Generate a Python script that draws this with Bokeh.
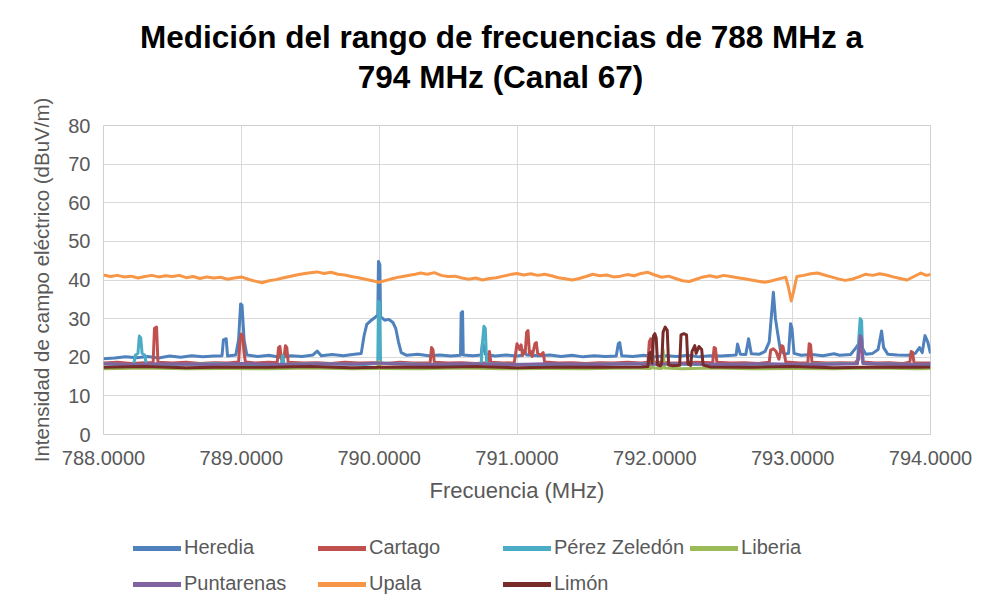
from bokeh.plotting import figure
from bokeh.layouts import column
from bokeh.models import FixedTicker, PrintfTickFormatter, Legend, LegendItem, Range1d, Label
from bokeh.embed import file_html
from bokeh.resources import INLINE

TITLE_LINE1 = "Medición del rango de frecuencias de 788 MHz a"
TITLE_LINE2 = "794 MHz (Canal 67)"
X_LABEL = "Frecuencia (MHz)"
Y_LABEL = "Intensidad de campo eléctrico (dBuV/m)"
X_TICKS = [788, 789, 790, 791, 792, 793, 794]
Y_TICKS = [0, 10, 20, 30, 40, 50, 60, 70, 80]

HEREDIA = [
    (788.00, 19.6), (788.08, 19.8), (788.16, 20.1), (788.24, 19.9), (788.32, 20.2), (788.40, 19.8),
    (788.48, 20.3), (788.56, 20.0), (788.64, 20.4), (788.72, 20.1), (788.80, 20.3), (788.86, 20.4),
    (788.87, 24.5), (788.89, 24.8), (788.90, 20.3), (788.96, 20.6), (788.98, 24.5), (788.995, 33.8),
    (789.005, 33.5), (789.02, 24.5), (789.04, 20.6), (789.12, 20.2), (789.20, 20.5), (789.28, 20.0),
    (789.36, 20.4), (789.44, 20.2), (789.52, 20.6), (789.55, 21.6), (789.58, 20.4), (789.66, 20.7),
    (789.74, 20.4), (789.82, 20.8), (789.87, 21.0), (789.89, 25.5), (789.91, 28.5), (789.94, 29.5),
    (789.97, 30.3), (789.99, 31.0), (789.995, 44.8), (790.005, 44.0), (790.01, 30.5), (790.04, 29.6),
    (790.07, 29.8), (790.10, 29.0), (790.12, 27.5), (790.14, 24.0), (790.16, 21.2), (790.20, 20.5),
    (790.28, 20.8), (790.36, 20.4), (790.44, 20.6), (790.52, 20.3), (790.59, 20.5), (790.595, 31.5),
    (790.605, 31.8), (790.61, 20.6), (790.68, 20.4), (790.74, 20.6), (790.75, 24.0), (790.77, 20.8),
    (790.84, 20.3), (790.92, 20.6), (791.00, 20.3), (791.04, 20.5), (791.05, 21.8), (791.07, 20.6),
    (791.16, 20.4), (791.24, 20.6), (791.32, 20.2), (791.40, 20.5), (791.48, 20.1), (791.56, 20.4),
    (791.64, 20.2), (791.72, 20.3), (791.735, 23.5), (791.745, 23.8), (791.76, 20.4), (791.84, 20.2),
    (791.92, 20.5), (792.00, 20.1), (792.08, 20.4), (792.16, 20.2), (792.24, 20.5), (792.32, 20.1),
    (792.40, 20.4), (792.48, 20.3), (792.56, 20.5), (792.59, 20.6), (792.60, 23.4), (792.62, 20.8),
    (792.66, 20.7), (792.68, 24.8), (792.70, 20.9), (792.76, 20.8), (792.80, 21.5), (792.83, 24.0),
    (792.86, 36.8), (792.875, 30.0), (792.89, 26.5), (792.91, 22.0), (792.94, 20.8), (792.97, 21.0),
    (792.985, 28.7), (792.995, 27.5), (793.01, 21.0), (793.06, 20.5), (793.14, 20.7), (793.22, 20.4),
    (793.30, 20.9), (793.34, 20.5), (793.42, 20.7), (793.46, 22.5), (793.48, 23.5), (793.50, 22.8),
    (793.53, 20.8), (793.58, 21.0), (793.62, 22.0), (793.645, 26.8), (793.66, 22.5), (793.69, 20.8),
    (793.76, 20.6), (793.84, 20.5), (793.89, 21.0), (793.92, 22.5), (793.94, 21.2), (793.96, 25.6),
    (793.98, 24.0), (794.00, 21.0),
]

CARTAGO = [
    (788.00, 18.5), (788.10, 18.7), (788.20, 18.4), (788.30, 18.6), (788.36, 18.6), (788.37, 27.5),
    (788.385, 27.8), (788.395, 18.7), (788.50, 18.5), (788.60, 18.7), (788.70, 18.4), (788.80, 18.6),
    (788.90, 18.5), (788.98, 18.8), (788.99, 24.0), (789.00, 26.0), (789.01, 25.5), (789.02, 21.0),
    (789.03, 18.8), (789.10, 18.5), (789.20, 18.7), (789.26, 18.6), (789.27, 22.5), (789.28, 22.8),
    (789.29, 19.5), (789.31, 20.0), (789.32, 23.0), (789.33, 22.5), (789.34, 18.7), (789.45, 18.5),
    (789.55, 18.6), (789.65, 18.4), (789.75, 18.7), (789.85, 18.5), (789.95, 18.6), (790.05, 18.4),
    (790.15, 18.7), (790.25, 18.5), (790.37, 18.6), (790.38, 22.5), (790.39, 22.0), (790.40, 18.7),
    (790.50, 18.5), (790.60, 18.6), (790.70, 18.4), (790.79, 18.6), (790.80, 21.5), (790.81, 18.7),
    (790.90, 18.5), (790.98, 18.6), (790.99, 21.0), (791.00, 23.5), (791.02, 22.0), (791.03, 23.2),
    (791.04, 20.5), (791.06, 21.5), (791.07, 26.5), (791.08, 26.9), (791.09, 21.0), (791.10, 21.5),
    (791.11, 20.2), (791.13, 23.5), (791.14, 23.8), (791.15, 21.0), (791.17, 20.5), (791.19, 21.2),
    (791.20, 18.8), (791.30, 18.5), (791.40, 18.6), (791.50, 18.4), (791.60, 18.6), (791.70, 18.5),
    (791.80, 18.7), (791.90, 18.5), (791.95, 18.7), (791.96, 24.0), (791.97, 24.8), (791.98, 22.5),
    (791.99, 18.8), (792.10, 18.6), (792.20, 18.5), (792.30, 18.7), (792.42, 18.6), (792.43, 22.5),
    (792.44, 22.3), (792.45, 18.7), (792.55, 18.5), (792.65, 18.6), (792.75, 18.4), (792.83, 18.7),
    (792.84, 21.8), (792.86, 22.2), (792.88, 21.5), (792.90, 19.5), (792.92, 23.0), (792.93, 22.8),
    (792.95, 18.8), (793.05, 18.5), (793.11, 18.6), (793.12, 23.5), (793.13, 23.2), (793.14, 18.7),
    (793.25, 18.5), (793.35, 18.6), (793.45, 18.5), (793.48, 19.5), (793.49, 25.0), (793.50, 24.5),
    (793.51, 18.8), (793.60, 18.5), (793.70, 18.6), (793.80, 18.4), (793.85, 18.7), (793.86, 21.5),
    (793.87, 21.3), (793.88, 18.6), (794.00, 18.5),
]

PEREZ_ZELEDON = [
    (788.00, 18.3), (788.15, 18.1), (788.22, 18.2), (788.23, 20.5), (788.25, 21.0), (788.26, 25.5),
    (788.27, 25.0), (788.28, 21.0), (788.30, 20.5), (788.31, 18.2), (788.50, 18.1), (788.80, 18.3),
    (789.10, 18.1), (789.29, 18.2), (789.30, 20.5), (789.31, 18.2), (789.60, 18.3), (789.90, 18.1),
    (789.99, 18.5), (789.995, 34.5), (790.005, 34.0), (790.01, 18.5), (790.30, 18.2), (790.60, 18.1),
    (790.74, 18.3), (790.75, 24.0), (790.76, 28.0), (790.77, 27.5), (790.78, 18.3), (791.10, 18.1),
    (791.50, 18.2), (791.90, 18.3), (792.30, 18.1), (792.70, 18.2), (793.00, 18.1), (793.30, 18.3),
    (793.47, 18.4), (793.48, 25.0), (793.49, 30.0), (793.50, 29.5), (793.51, 18.4), (793.80, 18.2),
    (794.00, 18.1),
]

LIBERIA = [
    (788.00, 17.0), (788.30, 17.2), (788.60, 17.0), (788.90, 17.1), (789.20, 17.0), (789.50, 17.2),
    (789.80, 17.0), (789.99, 17.1), (790.00, 19.0), (790.01, 17.1), (790.30, 17.0), (790.60, 17.2),
    (790.90, 17.0), (791.20, 17.1), (791.50, 17.0), (791.80, 17.2), (791.97, 17.1), (791.98, 21.0),
    (791.99, 17.2), (792.05, 17.1), (792.06, 22.0), (792.07, 17.2), (792.20, 17.0), (792.40, 17.2),
    (792.70, 17.0), (793.00, 17.1), (793.30, 17.0), (793.60, 17.2), (793.90, 17.0), (794.00, 17.1),
]

PUNTARENAS = [
    (788.00, 18.3), (788.20, 18.1), (788.40, 18.3), (788.60, 18.2), (788.80, 18.1), (789.00, 18.4),
    (789.20, 18.2), (789.40, 18.1), (789.60, 18.3), (789.80, 18.2), (790.00, 18.5), (790.20, 18.2),
    (790.40, 18.1), (790.60, 18.3), (790.80, 18.2), (791.00, 18.1), (791.20, 18.3), (791.40, 18.2),
    (791.60, 18.1), (791.80, 18.3), (792.00, 18.2), (792.20, 18.4), (792.40, 18.2), (792.60, 18.1),
    (792.80, 18.3), (793.00, 18.2), (793.20, 18.1), (793.47, 18.3), (793.48, 22.0), (793.49, 25.6),
    (793.50, 25.0), (793.51, 18.4), (793.70, 18.2), (793.90, 18.1), (794.00, 18.3),
]

UPALA = [
    (788.00, 41.3), (788.05, 40.9), (788.10, 41.2), (788.15, 40.8), (788.20, 41.0), (788.25, 40.5),
    (788.30, 40.9), (788.35, 41.2), (788.40, 40.8), (788.45, 41.1), (788.50, 40.9), (788.55, 41.2),
    (788.60, 40.6), (788.65, 40.9), (788.70, 40.4), (788.75, 40.8), (788.80, 40.5), (788.85, 40.7),
    (788.90, 40.2), (788.95, 40.5), (789.00, 40.8), (789.05, 40.2), (789.10, 39.7), (789.15, 39.3),
    (789.20, 39.8), (789.25, 40.1), (789.30, 40.5), (789.35, 40.9), (789.40, 41.3), (789.45, 41.6),
    (789.50, 41.9), (789.55, 42.1), (789.60, 41.7), (789.65, 42.0), (789.70, 41.5), (789.75, 41.3),
    (789.80, 40.9), (789.85, 40.6), (789.90, 40.2), (789.95, 39.8), (790.00, 39.4), (790.05, 39.9),
    (790.10, 40.4), (790.15, 40.8), (790.20, 41.1), (790.25, 41.4), (790.30, 41.8), (790.35, 41.5),
    (790.40, 41.9), (790.45, 41.2), (790.50, 40.9), (790.55, 41.0), (790.60, 40.5), (790.65, 40.2),
    (790.70, 40.5), (790.75, 40.0), (790.80, 40.4), (790.85, 40.6), (790.90, 41.0), (790.95, 41.4),
    (791.00, 41.7), (791.05, 41.3), (791.10, 41.6), (791.15, 41.2), (791.20, 41.5), (791.25, 41.1),
    (791.30, 40.6), (791.35, 40.3), (791.40, 40.0), (791.45, 40.4), (791.50, 40.9), (791.55, 41.5),
    (791.60, 41.1), (791.65, 41.3), (791.70, 40.8), (791.75, 41.0), (791.80, 41.4), (791.85, 41.1),
    (791.90, 41.7), (791.95, 42.0), (792.00, 41.3), (792.05, 40.7), (792.10, 41.0), (792.15, 40.4),
    (792.20, 39.8), (792.25, 39.6), (792.30, 40.2), (792.35, 40.8), (792.40, 41.1), (792.45, 40.7),
    (792.50, 41.2), (792.55, 40.9), (792.60, 40.6), (792.65, 40.3), (792.70, 40.0), (792.75, 39.7),
    (792.80, 39.4), (792.85, 39.8), (792.90, 40.3), (792.95, 40.7), (792.97, 38.0), (792.99, 34.6),
    (793.01, 37.5), (793.03, 40.9), (793.08, 41.2), (793.13, 41.6), (793.18, 41.8), (793.23, 41.3),
    (793.28, 40.8), (793.33, 40.3), (793.38, 39.9), (793.43, 40.2), (793.48, 40.8), (793.53, 41.5),
    (793.58, 41.2), (793.63, 41.6), (793.68, 41.3), (793.73, 40.8), (793.78, 40.4), (793.83, 40.0),
    (793.88, 40.9), (793.93, 41.8), (793.97, 41.2), (794.00, 41.4),
]

LIMON = [
    (788.00, 17.4), (788.30, 17.6), (788.60, 17.3), (788.90, 17.5), (789.20, 17.4), (789.50, 17.6),
    (789.80, 17.3), (790.10, 17.5), (790.40, 17.4), (790.70, 17.6), (791.00, 17.3), (791.30, 17.5),
    (791.60, 17.4), (791.90, 17.5), (791.95, 17.6), (791.96, 21.0), (791.97, 21.3), (791.98, 18.5),
    (791.99, 25.5), (792.00, 26.1), (792.01, 25.0), (792.02, 18.0), (792.04, 17.8), (792.05, 18.5),
    (792.06, 26.5), (792.075, 27.8), (792.09, 27.0), (792.10, 18.0), (792.13, 17.8), (792.18, 17.9),
    (792.19, 25.8), (792.21, 26.1), (792.23, 25.8), (792.24, 18.2), (792.26, 17.9), (792.27, 21.5),
    (792.29, 23.0), (792.30, 21.0), (792.32, 22.8), (792.34, 22.0), (792.35, 18.0), (792.40, 17.5),
    (792.70, 17.4), (793.00, 17.6), (793.30, 17.3), (793.60, 17.5), (793.90, 17.4), (794.00, 17.5),
]

SERIES = [
    ("Heredia", HEREDIA, "#4F81BD"),
    ("Cartago", CARTAGO, "#C0504D"),
    ("Pérez Zeledón", PEREZ_ZELEDON, "#4BACC6"),
    ("Liberia", LIBERIA, "#9BBB59"),
    ("Puntarenas", PUNTARENAS, "#8064A2"),
    ("Upala", UPALA, "#F79646"),
    ("Limón", LIMON, "#772C2A"),
]

FONT = "Liberation Sans"
GREY = "#595959"
W = 975
LEFT, RIGHT = 103, 45
TOP_H = 96


def strip(height):
    f = figure(width=W, height=height, output_backend="svg", toolbar_location=None,
               x_axis_type=None, y_axis_type=None,
               x_range=Range1d(0, 1), y_range=Range1d(0, 1),
               min_border_left=LEFT, min_border_right=RIGHT, min_border_top=0, min_border_bottom=0)
    f.grid.visible = False
    f.outline_line_color = None
    f.background_fill_color = "white"
    f.border_fill_color = "white"
    return f


# title strip
top = strip(TOP_H)
for txt, xs, ys in ((TITLE_LINE1, 398, TOP_H - 36), (TITLE_LINE2, 397, TOP_H - 76)):
    top.add_layout(Label(x=xs, y=ys, x_units="screen", y_units="screen", text=txt,
                         text_align="center", text_baseline="middle",
                         text_font=FONT, text_font_size="31.5px", text_font_style="bold",
                         text_color="#000000"))

# main chart
p = figure(width=W, height=520 - TOP_H, output_backend="svg", toolbar_location=None,
           x_range=Range1d(788, 794), y_range=Range1d(0, 80),
           min_border_left=LEFT, min_border_right=RIGHT, min_border_top=125 - TOP_H,
           min_border_bottom=86)
p.background_fill_color = "white"
p.border_fill_color = "white"
p.outline_line_color = "#D0D0D0"

for name, pts, color in SERIES:
    xs = [f for f, v in pts]
    ys = [v for f, v in pts]
    p.line(xs, ys, line_color=color, line_width=3, line_join="round")

for ax in (p.xaxis[0], p.yaxis[0]):
    ax.axis_line_color = None
    ax.major_tick_line_color = None
    ax.minor_tick_line_color = None
    ax.major_tick_out = 0
    ax.major_tick_in = 0
    ax.major_label_text_font = FONT
    ax.major_label_text_font_size = "20px"
    ax.major_label_text_color = GREY
    ax.axis_label_text_font = FONT
    ax.axis_label_text_color = GREY
    ax.axis_label_text_font_style = "normal"
    ax.axis_label_text_font_size = "22px"

p.yaxis.axis_label_text_font_size = "20.5px"
p.xaxis.ticker = FixedTicker(ticks=X_TICKS)
p.xaxis.formatter = PrintfTickFormatter(format="%.4f")
p.xaxis.axis_label = X_LABEL
p.xaxis.major_label_standoff = 16
p.xaxis.axis_label_standoff = 10

p.yaxis.ticker = FixedTicker(ticks=Y_TICKS)
p.yaxis.axis_label = Y_LABEL
p.yaxis.major_label_standoff = 13
p.yaxis.axis_label_standoff = 12

p.xgrid.grid_line_color = "#D9D9D9"
p.ygrid.grid_line_color = "#D9D9D9"
p.xgrid.ticker = FixedTicker(ticks=X_TICKS)
p.ygrid.ticker = FixedTicker(ticks=Y_TICKS)

# legend strip below the chart (its own ranges keep these sample lines out of view)
lg = strip(77)
items = []
for name, pts, color in SERIES:
    xs = [f for f, v in pts]
    ys = [v for f, v in pts]
    r = lg.line(xs, ys, line_color=color, line_width=5, line_cap="round")
    items.append(LegendItem(label=name, renderers=[r]))

legend_style = dict(orientation="horizontal",
                    label_text_font=FONT, label_text_font_size="20px", label_text_color=GREY,
                    glyph_width=48, glyph_height=20, label_height=20, label_width=128,
                    label_standoff=3, spacing=6, padding=0, margin=0,
                    border_line_color=None, background_fill_alpha=0)
lg.add_layout(Legend(items=items[:4], location=(30, 38), **legend_style), "center")
lg.add_layout(Legend(items=items[4:], location=(30, 2), **legend_style), "center")

open("out.html", "w").write(file_html(column(top, p, lg), INLINE))
